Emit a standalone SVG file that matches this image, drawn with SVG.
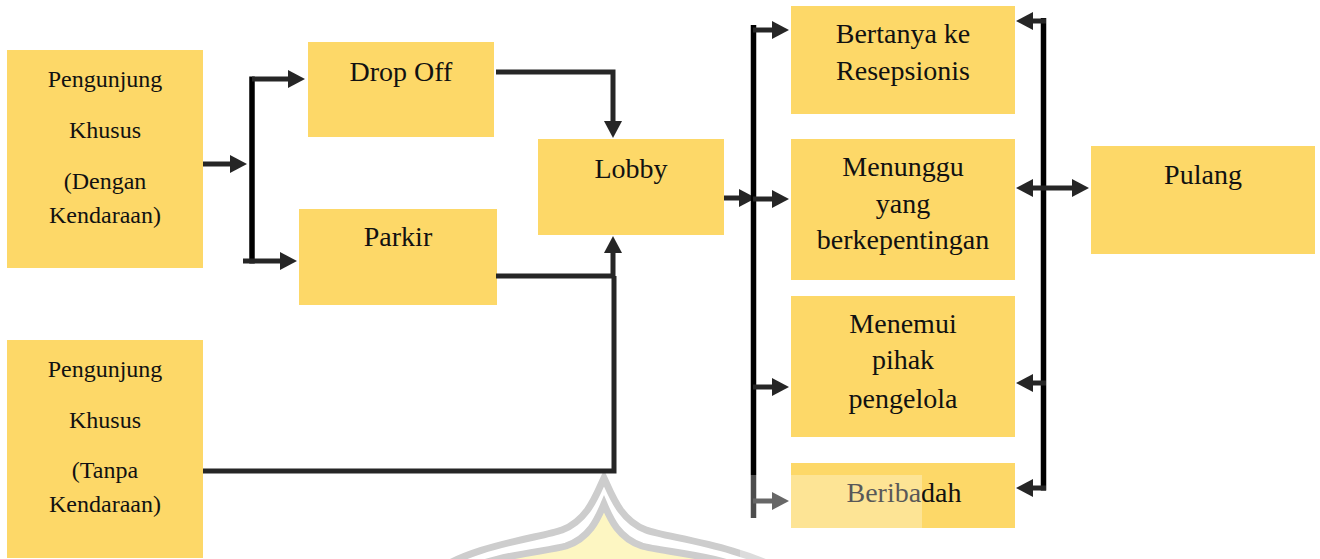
<svg xmlns="http://www.w3.org/2000/svg" width="1320" height="559" viewBox="0 0 1320 559">
<style>
.box{fill:#FDD868}
.t{font-family:"Liberation Serif","Times New Roman",serif;font-size:28px;fill:#111;text-anchor:middle}
.ts{font-size:24px}
.c{fill:none;stroke:#262626;stroke-width:5}
.bar{fill:none;stroke:#000;stroke-width:5.5}
</style>
<defs>
<marker id="ah" viewBox="0 0 17 18" refX="9" refY="9" markerWidth="17" markerHeight="18" markerUnits="userSpaceOnUse" orient="auto-start-reverse">
<path d="M0,0 L17,9 L0,18 z" fill="#262626"/>
</marker>
</defs>
<rect width="1320" height="559" fill="#fff"/>

<g id="watermark">
<path d="M430,575 C470,545 540,538 562,530 C588,520 596,495 604,478 C612,495 620,520 646,530 C668,538 740,545 790,575" fill="none" stroke="#cdcdcd" stroke-width="7"/>
<path d="M455,575 C490,555 545,552 566,546 C590,538 598,518 604,504 C610,518 618,538 642,546 C663,552 720,555 760,575 Z" fill="#FDF6C2" stroke="#cdcdcd" stroke-width="7"/>
</g>

<g id="n-pengunjung-dengan">
<rect class="box" x="7" y="50" width="196" height="218"/>
<text class="t ts" x="105" y="87">Pengunjung</text>
<text class="t ts" x="105" y="138">Khusus</text>
<text class="t ts" x="105" y="189">(Dengan</text>
<text class="t ts" x="105" y="223">Kendaraan)</text>
</g>
<g id="n-pengunjung-tanpa">
<rect class="box" x="7" y="340" width="196" height="218"/>
<text class="t ts" x="105" y="377">Pengunjung</text>
<text class="t ts" x="105" y="428">Khusus</text>
<text class="t ts" x="105" y="478">(Tanpa</text>
<text class="t ts" x="105" y="512">Kendaraan)</text>
</g>
<g id="n-dropoff">
<rect class="box" x="308" y="42" width="186" height="95"/>
<text class="t" x="401" y="81">Drop Off</text>
</g>
<g id="n-parkir">
<rect class="box" x="299" y="209" width="198" height="96"/>
<text class="t" x="398" y="246">Parkir</text>
</g>
<g id="n-lobby">
<rect class="box" x="538" y="139" width="186" height="96"/>
<text class="t" x="631" y="178">Lobby</text>
</g>
<g id="n-bertanya">
<rect class="box" x="791" y="6" width="224" height="108"/>
<text class="t" x="903" y="43">Bertanya ke</text>
<text class="t" x="903" y="80">Resepsionis</text>
</g>
<g id="n-menunggu">
<rect class="box" x="791" y="139" width="224" height="141"/>
<text class="t" x="903" y="176">Menunggu</text>
<text class="t" x="903" y="213">yang</text>
<text class="t" x="903" y="249">berkepentingan</text>
</g>
<g id="n-menemui">
<rect class="box" x="791" y="296" width="224" height="141"/>
<text class="t" x="903" y="333">Menemui</text>
<text class="t" x="903" y="369">pihak</text>
<text class="t" x="903" y="408">pengelola</text>
</g>
<g id="n-beribadah">
<rect class="box" x="791" y="463" width="224" height="65"/>
<text class="t" x="904" y="502">Beribadah</text>
</g>
<g id="n-pulang">
<rect class="box" x="1091" y="146" width="224" height="108"/>
<text class="t" x="1203" y="184">Pulang</text>
</g>

<g id="connectors">
<path class="c" d="M203,164 H239" marker-end="url(#ah)"/>
<path class="bar" d="M252,76.5 V263.5"/>
<path class="c" d="M252,79 H297" marker-end="url(#ah)"/>
<path class="c" d="M243,261 H289" marker-end="url(#ah)"/>
<path class="c" d="M496,72 H613 V130" marker-end="url(#ah)"/>
<path class="c" d="M496,276 H613 V244" marker-end="url(#ah)"/>
<path class="c" d="M203,471 H614 V276"/>
<path class="c" d="M724,198 H748" marker-end="url(#ah)"/>
<path class="bar" d="M753.5,25 V518"/>
<path class="c" d="M753,30 H781" marker-end="url(#ah)"/>
<path class="c" d="M753,199 H781" marker-end="url(#ah)"/>
<path class="c" d="M753,387 H781" marker-end="url(#ah)"/>
<path class="c" d="M753,501 H781" marker-end="url(#ah)"/>
<path class="bar" d="M1043.5,18 V490.5"/>
<path class="c" d="M1046,21 H1024" marker-end="url(#ah)"/>
<path class="c" d="M1024,188 H1081" marker-start="url(#ah)" marker-end="url(#ah)"/>
<path class="c" d="M1046,383 H1024" marker-end="url(#ah)"/>
<path class="c" d="M1046,488 H1024" marker-end="url(#ah)"/>
</g>

<rect id="watermark-veil" x="740" y="475" width="182" height="84" fill="#fff" fill-opacity="0.3"/>
</svg>
